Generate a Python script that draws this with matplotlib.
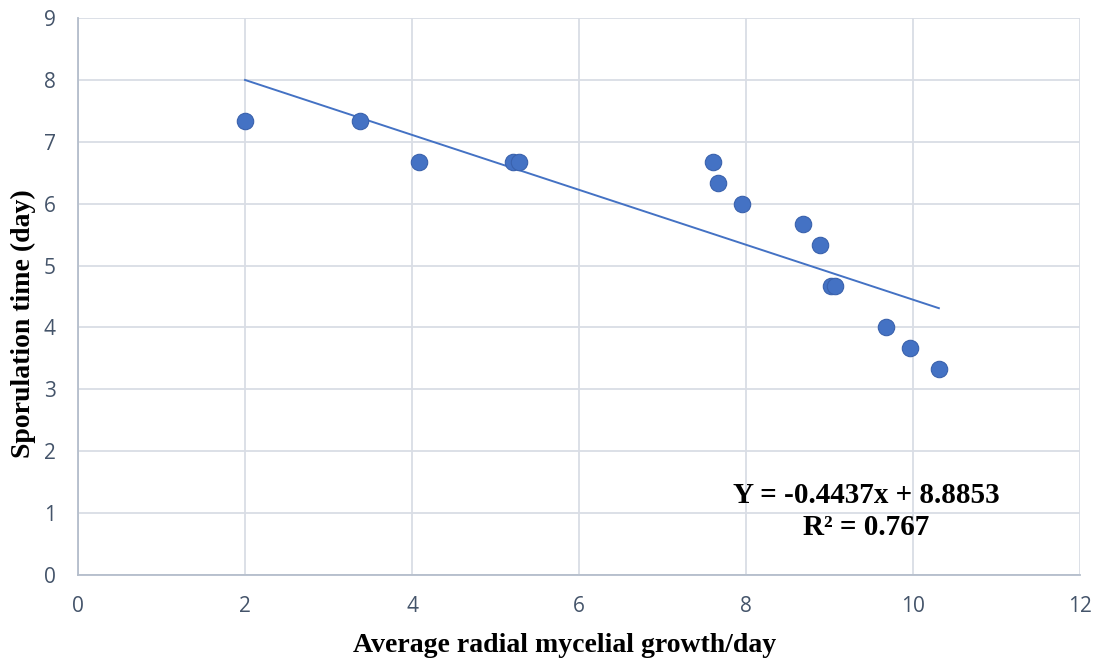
import numpy as np
import matplotlib.pyplot as plt

# Data
growth = [2.0, 3.38, 4.08, 5.21, 5.28, 7.60, 7.66, 7.95, 8.68, 8.89, 9.02, 9.07, 9.68, 9.96, 10.31]
sporulation = [7.33, 7.33, 6.67, 6.67, 6.67, 6.67, 6.33, 6.0, 5.67, 5.33, 4.67, 4.67, 4.0, 3.67, 3.33]
slope, intercept = -0.4437, 8.8853
r_squared = 0.767

blue = '#4472C4'
tick_color = '#44546A'

fig = plt.figure(figsize=(11.02, 6.64), dpi=100)
ax = fig.add_axes([0.0708, 0.134, 0.9092, 0.839])

ax.set_xlim(0, 12)
ax.set_ylim(0, 9)
ax.set_xticks(range(0, 13, 2))
ax.set_yticks(range(0, 10))

# Grid behind everything
ax.set_axisbelow(True)
ax.grid(True, color='#D9DDE5', linewidth=1.3)
for side in ['top', 'right']:
    ax.spines[side].set_visible(False)
for side in ['left', 'bottom']:
    ax.spines[side].set_color('#B4BDCB')
    ax.spines[side].set_linewidth(1.3)

ax.tick_params(length=0, labelsize=15, labelcolor=tick_color)
ax.tick_params(axis='x', pad=15)
ax.tick_params(axis='y', pad=16)
for lbl in ax.get_xticklabels() + ax.get_yticklabels():
    lbl.set_family('Open Sans')

# Linear trendline over the data range
xs = np.array([min(growth), max(growth)])
ax.plot(xs, slope * xs + intercept, color=blue, linewidth=1.4, zorder=2)

ax.scatter(growth, sporulation, s=140, color=blue, edgecolor='#3A62AD',
           linewidth=0.8, zorder=3)

ax.set_xlabel('Average radial mycelial growth/day', family='Liberation Serif',
              fontweight='bold', fontsize=20, va='center')
ax.set_ylabel('Sporulation time (day)', family='Liberation Serif',
              fontweight='bold', fontsize=20, va='center')
ax.xaxis.set_label_coords(0.486, -0.126)
ax.yaxis.set_label_coords(-0.054, 0.452)

ax.text(9.44, 1.03, 'Y = %.4fx + %.4f\nR² = %.3f' % (slope, intercept, r_squared),
        family='Liberation Serif', fontweight='bold', fontsize=21,
        ha='center', va='center', linespacing=1.25)

fig.savefig('out.png', dpi=100)
